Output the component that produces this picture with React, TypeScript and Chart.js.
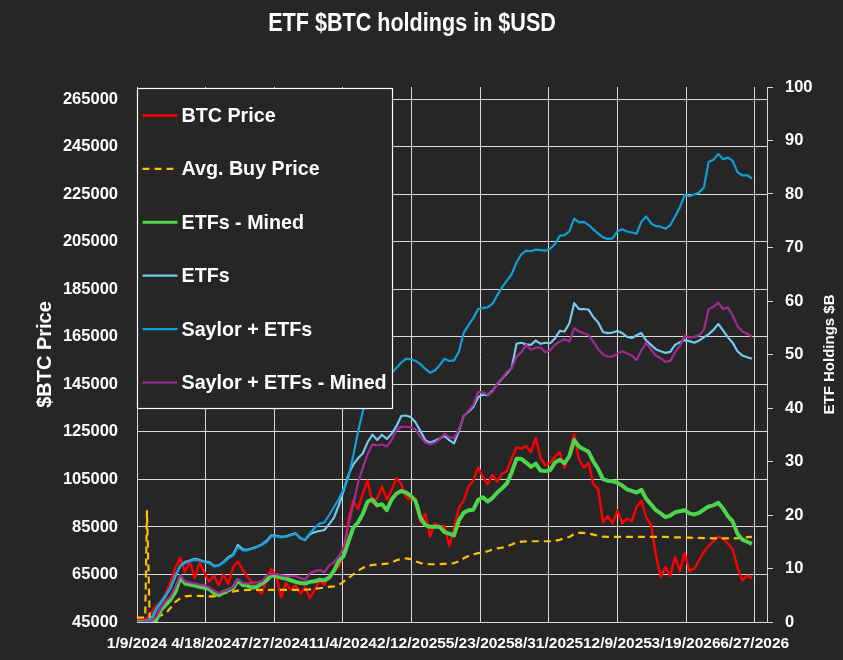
import { useEffect, useRef } from "react";
import { Chart, registerables } from "chart.js";

Chart.register(...registerables);

const BACKGROUND = "#262626";
const GRID = "#d9d9d9";
const TEXT = "#ffffff";
const FONT = '"Liberation Sans", Arial, sans-serif';

const CHART_TITLE = "ETF $BTC holdings in $USD";
const PRICE_AXIS_TITLE = "$BTC Price";
const HOLDINGS_AXIS_TITLE = "ETF Holdings $B";

// Day 0 of the x axis; the series are sampled once a week from there.
const START_DATE_UTC = Date.UTC(2024, 0, 9);
const SAMPLE_STEP_DAYS = 7;

const dateTickDays = [0, 100, 200, 300, 400, 500, 600, 700, 800, 900];
const priceTicks = [45000, 65000, 85000, 105000, 125000, 145000, 165000, 185000, 205000, 225000, 245000, 265000];

// BTC spot price, USD (weekly)
const btcPrice = [
  46000, 45500, 46500, 49000, 52000, 53000, 57000, 62000, 68000, 72000,
  66000, 70500, 63500, 70000, 66000, 62000, 64500, 60500, 65000, 61000,
  68000, 70500, 67000, 64000, 61500, 58500, 57000, 63500, 67500, 64000,
  55500, 61500, 58500, 60500, 57000, 59500, 55000, 58500, 62500, 60500,
  64000, 66000, 68500, 73000, 88000, 96000, 92500, 99000, 104500, 95000,
  97000, 102000, 96500, 100500, 105500, 103000, 97500, 96500, 97000, 87000,
  90500, 81000, 86500, 85000, 85500, 77000, 84500, 93000, 96000, 102000,
  104500, 110000, 106000, 103000, 107000, 104000, 107500, 108500, 114000, 118500,
  118000, 119000, 116500, 122500, 114000, 111000, 112000, 114500, 116500, 110000,
  116000, 124000, 113500, 110000, 112000, 103000, 101000, 87000, 89500, 86500,
  92000, 86500, 88500, 87500, 93500, 96000, 89000, 86000, 73500, 64000,
  68000, 64500, 72500, 66500, 74000, 66500, 67500, 71000, 74500, 77000,
  79000, 81000, 80000, 78000, 75500, 68000, 62500, 64500, 63500,
];

// Average ETF buy price, USD: the launch days, then weekly from day 21
const avgBuyLaunchDays = [0, 7, 12, 14.5, 18.5];
const avgBuyLaunch = [46800, 46800, 47000, 91700, 46800];
const avgBuyPrice = [
  47000, 47200, 47800, 48600, 51000, 53500, 55000, 55800, 56000, 56000,
  56000, 55900, 55800, 55800, 56200, 57000, 57600, 57800, 58200, 58400,
  58500, 58500, 58500, 58500, 58500, 58500, 58500, 58500, 58500, 58500,
  58500, 58500, 58600, 58700, 59000, 59200, 59500, 59800, 60000, 60500,
  62000, 63500, 65000, 66500, 67800, 68500, 69000, 69200, 69400, 69600,
  70000, 71000, 71500, 71800, 71500, 70500, 69800, 69500, 69300, 69300,
  69400, 69500, 69600, 69800, 70500, 71800, 72800, 73500, 74000, 74200,
  74800, 75500, 76000, 76300, 76800, 77600, 78500, 78800, 78900, 79000,
  79000, 79000, 79000, 79000, 79200, 79600, 80300, 80800, 82000, 82500,
  82500, 82200, 81800, 81300, 80900, 80800, 80800, 80800, 80800, 80800,
  80800, 80800, 80800, 80800, 80800, 80800, 80800, 80800, 80700, 80600,
  80600, 80500, 80500, 80400, 80400, 80300, 80300, 80200, 80200, 80200,
  80200, 80200, 80300, 80500, 80700, 80800,
];

// Holdings, $B (weekly)
const etfsMined = [
  0, 0, 0, 0.1, 0.3, 2.3, 3.2, 4.2, 5.6, 8.3,
  7.2, 7.0, 6.8, 6.6, 6.4, 6.2, 5.4, 5.0, 5.6, 5.9,
  6.3, 7.8, 6.9, 6.8, 6.4, 6.6, 7.2, 7.8, 8.7, 8.6,
  8.3, 8.1, 7.8, 7.5, 7.3, 7.2, 7.5, 7.6, 7.9, 7.8,
  8.3, 9.6, 11.4, 12.3, 15.0, 17.6, 18.6, 20.2, 22.5, 22.9,
  21.8, 22.0, 20.9, 22.9, 24.0, 24.5, 24.2, 23.6, 22.6, 19.5,
  18.1, 17.8, 17.8, 17.8, 16.8, 16.5, 16.2, 19.0, 20.4, 20.9,
  21.0, 22.8, 23.3, 22.5, 23.2, 24.2, 25.0, 25.9, 28.0, 30.5,
  30.5, 29.8, 29.0, 29.6, 28.3, 28.2, 28.4, 29.8, 30.3, 29.7,
  31.0, 34.0, 32.8, 32.3, 31.8, 30.0, 28.6, 26.7, 26.4, 26.3,
  26.0, 25.5, 24.8, 24.5, 24.2, 24.7, 23.0, 22.0, 20.9, 20.3,
  19.6, 19.9, 20.5, 20.7, 20.9, 20.3, 20.1, 20.4, 21.0, 21.6,
  21.8, 22.3, 21.2, 19.8, 18.8, 16.5, 15.4, 15.0, 14.6,
];

const etfs = [
  0, 0, 0.2, 0.5, 2.3, 3.7, 4.9, 6.4, 8.6, 10.5,
  11.2, 11.5, 11.8, 11.6, 11.3, 11.2, 10.5, 10.6, 11.2, 12.1,
  12.6, 14.4, 13.6, 13.5, 13.8, 14.1, 14.5, 15.2, 16.2, 16.1,
  15.9, 16.0, 16.3, 16.6, 15.7, 15.3, 16.4, 16.8, 17.0, 17.2,
  18.3, 19.5, 21.8, 24.5, 27.5, 29.4, 30.6, 31.5, 33.6, 35.0,
  34.0, 35.0, 34.2, 35.2, 36.6, 38.5, 38.6, 38.3, 37.3, 35.7,
  34.0, 33.5, 33.9, 34.3, 34.8, 34.0, 33.4, 35.7, 38.5, 39.3,
  40.2, 42.0, 42.5, 42.4, 43.2, 44.5, 45.5, 46.5, 47.5, 52.0,
  52.2, 51.9, 51.8, 52.6, 52.0, 52.2, 52.1, 53.0, 54.4, 54.3,
  55.8, 59.6, 58.5, 58.5, 58.4, 57.0, 56.0, 54.2, 54.0, 54.1,
  54.4, 54.0, 53.3, 53.1, 53.6, 54.0, 52.6, 51.8, 51.0, 50.6,
  50.3, 50.5, 51.8, 52.3, 52.7, 52.5, 52.2, 52.6, 53.2, 53.8,
  54.6, 55.7, 54.5, 53.2, 52.2, 50.6, 49.8, 49.5, 49.2,
];

const saylorEtfs = [
  0, 0, 0.3, 0.7, 2.5, 3.9, 5.1, 6.6, 8.8, 10.4,
  11.0, 11.4, 11.6, 11.5, 11.2, 11.0, 10.4, 10.5, 11.1, 11.9,
  12.4, 14.0, 13.4, 13.4, 13.7, 14.0, 14.4, 15.0, 16.0, 16.0,
  15.8, 15.9, 16.2, 16.5, 15.6, 15.4, 16.6, 17.6, 18.4, 18.6,
  20.0, 21.5, 23.0, 24.8, 27.0, 31.0, 35.5, 39.3, 42.4, 44.1,
  45.6, 46.0, 46.3, 46.5, 47.5, 48.5, 49.2, 49.1, 48.8, 48.2,
  47.3, 46.6, 47.0, 48.0, 49.2, 48.8, 48.9, 50.5, 54.0, 55.5,
  56.8, 58.5, 58.7, 58.8, 59.5, 61.1, 62.6, 63.8, 65.0, 67.2,
  68.7, 69.4, 69.3, 69.6, 69.5, 69.4, 69.8, 70.6, 72.2, 72.3,
  73.0, 75.4, 74.7, 74.8, 74.2, 73.4, 72.6, 71.9, 71.6, 71.7,
  73.0, 73.4, 73.0, 72.8, 72.6, 74.8, 75.8, 74.5, 74.0, 73.9,
  73.5, 74.2, 75.8, 77.5, 79.8, 79.6, 79.9, 80.3, 81.2, 86.0,
  86.4, 87.5, 86.5, 86.8, 86.2, 84.1, 83.5, 83.5, 82.9,
];

const saylorEtfsMined = [
  0, 0, 0, 0.2, 1.0, 2.7, 4.0, 4.8, 6.6, 8.8,
  7.6, 7.4, 7.2, 7.0, 6.9, 6.5, 5.9, 5.4, 5.7, 6.0,
  6.5, 8.0, 7.3, 7.2, 7.3, 7.4, 7.6, 8.7, 9.0, 9.0,
  8.7, 8.6, 8.6, 8.6, 8.2, 7.9, 9.1, 9.5, 9.7, 9.3,
  10.6, 11.2, 12.2, 14.0, 18.0, 22.0, 26.0, 28.8, 31.4, 33.2,
  33.0, 33.2, 32.8, 34.0, 35.8, 36.5, 36.5, 36.4, 36.0, 34.6,
  33.6, 33.2, 33.5, 34.2, 35.2, 34.5, 34.4, 36.0, 38.4, 39.5,
  40.6, 43.0, 42.9, 42.5, 43.0, 44.6, 45.6, 46.8, 47.4, 49.6,
  50.4, 51.8, 50.9, 51.3, 51.3, 50.4, 50.8, 51.8, 52.4, 52.9,
  52.4, 54.9, 54.3, 54.0, 53.6, 52.4, 51.0, 50.0, 49.6, 49.6,
  50.2, 50.6, 50.2, 49.8, 49.0, 50.8, 52.2, 50.9, 49.8, 49.3,
  48.6, 48.8, 50.4, 51.6, 53.5, 53.2, 53.3, 53.6, 54.6, 58.5,
  58.9, 59.7, 58.5, 58.8, 57.3, 55.3, 54.3, 53.9, 53.3,
];

const weekly = (values: number[], firstIndex = 0) =>
  values.map((v, i) => ({ x: (i + firstIndex) * SAMPLE_STEP_DAYS, y: v }));

const formatDay = (day: number) => {
  const d = new Date(START_DATE_UTC + day * 86400000);
  return `${d.getUTCMonth() + 1}/${d.getUTCDate()}/${d.getUTCFullYear()}`;
};

// Chart heading (condensed bold) and the right-hand axis caption (read bottom to top)
const captionsPlugin = {
  id: "captions",
  afterDraw(chart: Chart) {
    const { ctx } = chart;
    ctx.save();
    ctx.fillStyle = TEXT;
    ctx.textAlign = "center";
    ctx.textBaseline = "alphabetic";
    ctx.translate(412, 31);
    ctx.scale(0.83, 1);
    ctx.font = `bold 26px ${FONT}`;
    ctx.fillText(CHART_TITLE, 0, 0);
    ctx.restore();

    ctx.save();
    ctx.fillStyle = TEXT;
    ctx.textAlign = "center";
    ctx.translate(830, chart.chartArea.top + chart.chartArea.height / 2);
    ctx.rotate(-Math.PI / 2);
    ctx.textBaseline = "middle";
    ctx.font = `bold 15px ${FONT}`;
    ctx.fillText(HOLDINGS_AXIS_TITLE, 0, 0);
    ctx.restore();
  },
};

// Framed legend drawn over the series, in the upper left of the plot
const boxLegendPlugin = {
  id: "boxLegend",
  afterDatasetsDraw(chart: Chart) {
    const { ctx, chartArea } = chart;
    const left = chartArea.left + 0.5;
    const top = chartArea.top + 1.5;
    const width = 255;
    const height = 320;
    ctx.save();
    ctx.fillStyle = BACKGROUND;
    ctx.fillRect(left, top, width, height);
    ctx.strokeStyle = TEXT;
    ctx.lineWidth = 1.2;
    ctx.strokeRect(left, top, width, height);

    chart.data.datasets.forEach((ds: any, i: number) => {
      const y = top + 27 + i * 53.4;
      ctx.beginPath();
      ctx.setLineDash(ds.borderDash || []);
      ctx.strokeStyle = ds.borderColor;
      ctx.lineWidth = Math.min(ds.borderWidth, 3);
      ctx.moveTo(left + 5, y);
      ctx.lineTo(left + 40, y);
      ctx.stroke();
      ctx.setLineDash([]);
      ctx.fillStyle = TEXT;
      ctx.font = `bold 19.7px ${FONT}`;
      ctx.textAlign = "left";
      ctx.textBaseline = "middle";
      ctx.fillText(ds.label, left + 44, y + 1);
    });
    ctx.restore();
  },
};

export default function App() {
  const canvasRef = useRef<HTMLCanvasElement | null>(null);

  useEffect(() => {
    document.body.style.margin = "0";
    document.body.style.background = BACKGROUND;
    const canvas = canvasRef.current;
    if (!canvas) return;

    const avgBuyData = [
      ...avgBuyLaunchDays.map((d, i) => ({ x: d, y: avgBuyLaunch[i] })),
      ...weekly(avgBuyPrice, 3),
    ];

    const line = (extra: any) => ({
      pointRadius: 0,
      tension: 0,
      fill: false,
      borderJoinStyle: "round",
      ...extra,
    });

    const chart = new Chart(canvas, {
      type: "line",
      data: {
        datasets: [
          line({ label: "BTC Price", data: weekly(btcPrice), borderColor: "#ff0000", borderWidth: 2.4, yAxisID: "y", order: 6 }),
          line({ label: "Avg. Buy Price", data: avgBuyData, borderColor: "#ffc000", borderWidth: 2.2, borderDash: [7, 5], yAxisID: "y", order: 5 }),
          line({ label: "ETFs - Mined", data: weekly(etfsMined), borderColor: "#4ed34e", borderWidth: 4, yAxisID: "y2", order: 4 }),
          line({ label: "ETFs", data: weekly(etfs), borderColor: "#74c9ee", borderWidth: 2.2, yAxisID: "y2", order: 3 }),
          line({ label: "Saylor + ETFs", data: weekly(saylorEtfs), borderColor: "#0f9ed5", borderWidth: 2.2, yAxisID: "y2", order: 2 }),
          line({ label: "Saylor + ETFs - Mined", data: weekly(saylorEtfsMined), borderColor: "#a02b93", borderWidth: 2.2, yAxisID: "y2", order: 1 }),
        ],
      },
      options: {
        responsive: false,
        animation: false,
        events: [],
        layout: { padding: { top: 87, left: 0, right: 0, bottom: 0 } },
        plugins: {
          legend: { display: false },
          tooltip: { enabled: false },
          title: { display: false },
        },
        scales: {
          x: {
            type: "linear",
            min: 0,
            max: 918,
            afterBuildTicks: (scale: any) => {
              scale.ticks = dateTickDays.map((v) => ({ value: v }));
            },
            afterFit: (scale: any) => {
              scale.height = 38;
            },
            grid: { color: GRID, lineWidth: 1, drawTicks: false },
            border: { display: true, color: GRID },
            ticks: {
              color: TEXT,
              font: { family: FONT, size: 15.5, weight: "bold" },
              padding: 12,
              maxRotation: 0,
              minRotation: 0,
              autoSkip: false,
              callback: (v: any) => formatDay(Number(v)),
            },
          },
          y: {
            type: "linear",
            position: "left",
            min: 45000,
            max: 270200,
            afterBuildTicks: (scale: any) => {
              scale.ticks = priceTicks.map((v) => ({ value: v }));
            },
            afterFit: (scale: any) => {
              scale.width = 137;
            },
            grid: { color: GRID, lineWidth: 1, drawTicks: false },
            border: { display: false },
            ticks: {
              color: TEXT,
              font: { family: FONT, size: 16.5, weight: "bold" },
              padding: 19,
              callback: (v: any) => String(v),
            },
            title: {
              display: true,
              text: PRICE_AXIS_TITLE,
              color: TEXT,
              font: { family: FONT, size: 20, weight: "bold" },
              padding: { top: 33, bottom: 0 },
            },
          },
          y2: {
            type: "linear",
            position: "right",
            min: 0,
            max: 100,
            afterFit: (scale: any) => {
              scale.width = 76;
            },
            grid: { drawOnChartArea: false, drawTicks: true, tickLength: 6, color: GRID },
            border: { display: true, color: GRID },
            ticks: {
              stepSize: 10,
              color: TEXT,
              font: { family: FONT, size: 16.5, weight: "bold" },
              padding: 12,
            },
          },
        },
      },
      plugins: [boxLegendPlugin, captionsPlugin],
    } as any);

    return () => chart.destroy();
  }, []);

  return (
    <div style={{ position: "fixed", left: 0, top: 0, width: 843, height: 660, background: BACKGROUND }}>
      <canvas ref={canvasRef} width={843} height={660} style={{ display: "block" }} />
    </div>
  );
}
